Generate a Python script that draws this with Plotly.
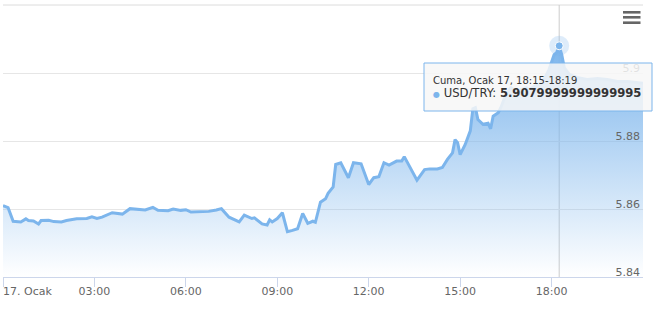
import plotly.graph_objects as go

DAY = "2020-01-17"

times = ["00:00","00:10","00:20","00:35","00:45","00:50","01:00","01:10","01:15","01:30",
         "01:40","01:55","02:05","02:25","02:45","02:55","03:05","03:15","03:35","03:55",
         "04:10","04:25","04:40","04:55","05:05","05:25","05:35","05:50","06:00","06:10",
         "06:30","06:45","07:00","07:10","07:25","07:45","07:55","08:10","08:15","08:30",
         "08:40","08:45","08:50","09:00","09:10","09:20","09:30","09:40","09:50","10:00",
         "10:10","10:15","10:25","10:35","10:40","10:50","10:55","11:05","11:20","11:30",
         "11:45","12:00","12:10","12:20","12:30","12:40","12:55","13:05","13:10","13:25",
         "13:35","13:50","14:00","14:15","14:25","14:35","14:45","14:50","14:55","15:00",
         "15:10","15:20","15:25","15:30","15:35","15:45","15:55","16:00","16:05","16:15",
         "16:20","16:30","16:40","16:50","17:00","17:10","17:15","17:25","17:35","17:45",
         "17:55","18:05","18:10","18:15","18:20","18:25","18:35","18:50","19:10","19:30",
         "19:50","20:10","20:30","20:50","21:00"]
values = [5.8610,5.8604,5.8564,5.8562,5.8571,5.8566,5.8565,5.8556,5.8566,5.8567,
          5.8563,5.8562,5.8566,5.8571,5.8572,5.8577,5.8572,5.8576,5.8589,5.8585,
          5.8601,5.8599,5.8597,5.8605,5.8596,5.8595,5.8600,5.8596,5.8598,5.8591,
          5.8593,5.8593,5.8597,5.8601,5.8576,5.8562,5.8582,5.8572,5.8574,5.8556,
          5.8553,5.8568,5.8562,5.8572,5.8589,5.8533,5.8537,5.8542,5.8587,5.8558,
          5.8564,5.8561,5.8620,5.8630,5.8646,5.8665,5.8731,5.8736,5.8692,5.8736,
          5.8733,5.8672,5.8692,5.8695,5.8736,5.8729,5.8741,5.8741,5.8754,5.8711,
          5.8685,5.8716,5.8718,5.8718,5.8722,5.8746,5.8765,5.8804,5.8795,5.8760,
          5.8790,5.8830,5.8895,5.8898,5.8863,5.8849,5.8852,5.8836,5.8873,5.8883,
          5.8898,5.8937,5.8957,5.8946,5.8951,5.8957,5.8951,5.8960,5.8966,5.8981,
          5.9010,5.9054,5.9060,5.9080,5.9054,5.9016,5.8996,5.8987,5.8981,5.8984,
          5.8981,5.8975,5.8975,5.8972,5.8970]

series_name = "USD/TRY"
hover_time = "18:15"
hover_value = 5.9079999999999995
tooltip_header = "Cuma, Ocak 17, 18:15-18:19"

x_tick_times = ["00:00","03:00","06:00","09:00","12:00","15:00","18:00"]
x_tick_labels = ["", "03:00","06:00","09:00","12:00","15:00","18:00"]
first_label = "17. Ocak"
y_tick_vals = [5.84, 5.86, 5.88, 5.90, 5.92]
y_tick_labels = ["5.84", "5.86", "5.88", "5.9", ""]
y_range = [5.84, 5.92]
x_range = ["00:00", "21:00"]

def ts(t):
    return f"{DAY} {t}:00"

COLOR = "#7cb5ec"
FONT = "DejaVu Sans"

W, H = 658, 316
ML, MR, MT, MB = 3, 15, 5, 39
PW, PH = W - ML - MR, H - MT - MB

def px(x):
    return (x - ML) / PW

def py(y):
    return (H - MB - y) / PH

fig = go.Figure()

fig.add_trace(go.Scatter(
    x=[ts(t) for t in times], y=values, mode="lines",
    line=dict(color=COLOR, width=3),
    fill="tozeroy",
    fillgradient=dict(type="vertical", start=y_range[0], stop=max(values),
                      colorscale=[[0, "rgba(124,181,236,0)"], [1, "rgba(124,181,236,1)"]]),
    hoverinfo="skip", showlegend=False,
))

# hover halo + marker
fig.add_trace(go.Scatter(
    x=[ts(hover_time)], y=[hover_value], mode="markers",
    marker=dict(size=20, color="rgba(124,181,236,0.25)"),
    hoverinfo="skip", showlegend=False,
))
fig.add_trace(go.Scatter(
    x=[ts(hover_time)], y=[hover_value], mode="markers",
    marker=dict(size=8, color=COLOR, line=dict(color="white", width=1)),
    hoverinfo="skip", showlegend=False,
))
# dummy trace for secondary x axis (first label)
fig.add_trace(go.Scatter(
    x=[ts(x_tick_times[0])], y=[y_range[0]], mode="markers",
    marker=dict(opacity=0), xaxis="x2", hoverinfo="skip", showlegend=False,
))

shapes = []
# top border line
shapes.append(dict(type="line", xref="paper", yref="paper", x0=0, x1=1, y0=1, y1=1,
                   line=dict(color="#dcdcdc", width=1), layer="below"))
# crosshair
shapes.append(dict(type="line", xref="x", yref="paper", x0=ts(hover_time), x1=ts(hover_time),
                   y0=0, y1=1, line=dict(color="#cccccc", width=1), layer="below"))
# tooltip box
shapes.append(dict(type="rect", xref="paper", yref="paper",
                   x0=px(424), x1=px(652), y0=py(111), y1=py(63),
                   fillcolor="rgba(247,247,247,0.85)", line=dict(color=COLOR, width=1),
                   layer="above"))
# menu icon
for yy in (12.3, 17.3, 22.7):
    shapes.append(dict(type="line", xref="paper", yref="paper",
                       x0=px(623), x1=px(640.5), y0=py(yy), y1=py(yy),
                       line=dict(color="#666666", width=2.6), layer="above"))

annotations = [
    dict(xref="paper", yref="paper", x=px(431), y=py(80), xanchor="left", yanchor="middle",
         text=tooltip_header, showarrow=False, font=dict(family=FONT, size=10, color="#333333")),
    dict(xref="paper", yref="paper", x=px(431), y=py(93), xanchor="left", yanchor="middle",
         text=f"<span style='color:{COLOR};font-size:8px'>●</span> {series_name}: <b>{hover_value!r}</b>",
         showarrow=False, font=dict(family=FONT, size=11.6, color="#333333")),
]

fig.update_layout(
    width=W, height=H,
    margin=dict(l=ML, r=MR, t=MT, b=MB),
    paper_bgcolor="white", plot_bgcolor="white",
    font=dict(family=FONT, size=11, color="#666666"),
    hovermode=False,
    shapes=shapes, annotations=annotations,
    xaxis=dict(
        type="date", range=[ts(x_range[0]), ts(x_range[1])],
        tickvals=[ts(t) for t in x_tick_times], ticktext=x_tick_labels,
        showgrid=False, showline=True, linecolor="#ccd6eb", linewidth=1,
        ticks="outside", ticklen=9, tickcolor="#ccd6eb",
        ticklabelstandoff=-5,
        tickfont=dict(family=FONT, size=11, color="#666666"),
        zeroline=False,
    ),
    xaxis2=dict(
        type="date", overlaying="x", matches="x", side="bottom",
        tickvals=[ts(x_tick_times[0])], ticktext=[first_label],
        ticklabelposition="outside right",
        ticklabelstandoff=6,
        showgrid=False, showline=False, ticks="",
        tickfont=dict(family=FONT, size=11, color="#666666"),
        zeroline=False,
    ),
    yaxis=dict(
        range=y_range, side="right",
        tickvals=y_tick_vals, ticktext=y_tick_labels,
        ticklabelposition="inside top",
        ticklabelshift=3,
        ticklabeloverflow="allow",
        showgrid=True, gridcolor="#e6e6e6", gridwidth=1,
        showline=False, zeroline=False, ticks="",
        tickfont=dict(family=FONT, size=11, color="#666666"),
    ),
)

fig.write_html("out.html")
